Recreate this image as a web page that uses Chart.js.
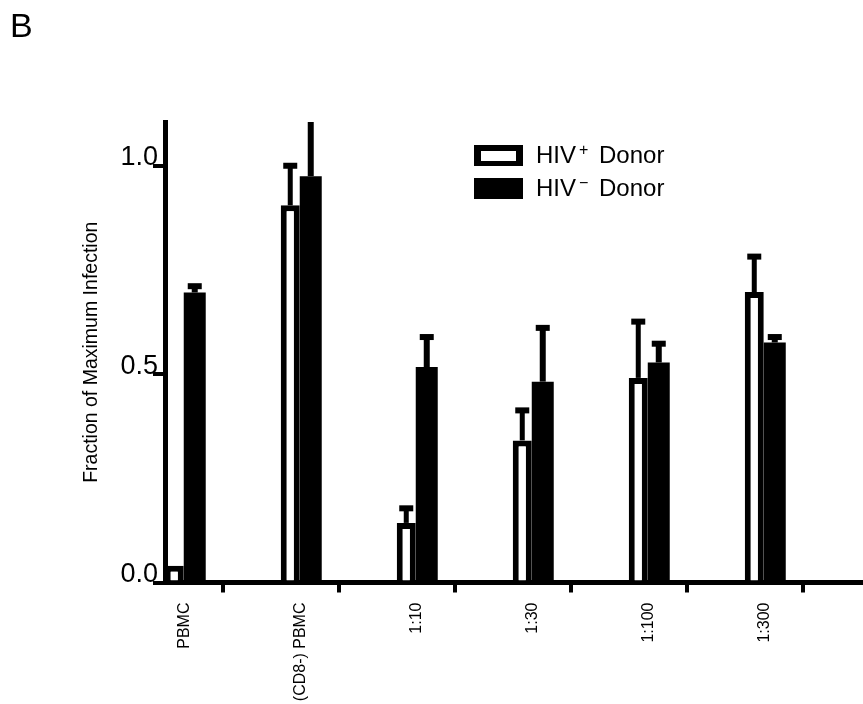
<!DOCTYPE html>
<html>
<head>
<meta charset="utf-8">
<title>Fraction of Maximum Infection</title>
<script src="https://cdn.jsdelivr.net/npm/chart.js@4.4.1/dist/chart.umd.min.js"></script>
<style>
  html, body { margin: 0; padding: 0; background: #fff; }
  #wrap { width: 863px; height: 704px; position: relative; }
</style>
</head>
<body>
<div id="wrap"><canvas id="chart"></canvas></div>
<script>
'use strict';

// ── data ────────────────────────────────────────────────────────────────────
const categories  = ['PBMC', '(CD8-) PBMC', '1:10', '1:30', '1:100', '1:300'];
const hivPos      = [0.040, 0.905, 0.143, 0.341, 0.491, 0.697];
const hivPosErr   = [0.000, 0.095, 0.035, 0.072, 0.135, 0.085];
const hivNeg      = [0.696, 0.975, 0.517, 0.482, 0.528, 0.576];
const hivNegErr   = [0.015, 0.150, 0.072, 0.129, 0.045, 0.013];
const yTickValues = [0, 0.5, 1.0];
const seriesNames = ['HIV⁺ Donor', 'HIV⁻ Donor'];
const legendParts = [['HIV', '+', ' Donor'], ['HIV', '−', ' Donor']];

const FONT = "'Liberation Sans', Arial, sans-serif";
const errorSets = [hivPosErr, hivNegErr];

// ── error bars (one-sided, upward, T cap) ──────────────────────────────────
const errorBars = {
  id: 'errorBars',
  afterDatasetsDraw(chart) {
    const { ctx, chartArea, scales: { y } } = chart;
    ctx.save();
    ctx.beginPath();
    ctx.rect(chartArea.left, chartArea.top, chartArea.width, chartArea.height);
    ctx.clip();
    ctx.fillStyle = '#000';
    chart.data.datasets.forEach((ds, di) => {
      const stem = di === 0 ? 5 : 6;
      chart.getDatasetMeta(di).data.forEach((bar, i) => {
        const err = errorSets[di][i];
        if (!err) return;
        const yTop = y.getPixelForValue(ds.data[i].y);
        const yEnd = y.getPixelForValue(ds.data[i].y + err);
        ctx.fillRect(bar.x - stem / 2, yEnd, stem, yTop - yEnd);
        ctx.fillRect(bar.x - 7, yEnd - 3, 14, 6);
      });
    });
    ctx.restore();
  }
};

// ── legend with superscripts ───────────────────────────────────────────────
const boxLegend = {
  id: 'boxLegend',
  afterDraw(chart) {
    const { ctx, chartArea } = chart;
    const bx = chartArea.left + 309;
    const by = chartArea.top + 23;
    ctx.save();
    chart.data.datasets.forEach((ds, i) => {
      const top = by + i * 33;
      ctx.fillStyle = '#000';
      ctx.fillRect(bx, top, 49, 21);
      if (ds.backgroundColor === '#fff') {
        ctx.fillStyle = '#fff';
        ctx.fillRect(bx + 7, top + 6, 35, 10);
      }
      const [main, sup, rest] = legendParts[i];
      const base = top + 18;
      let tx = bx + 62;
      ctx.fillStyle = '#000';
      ctx.textBaseline = 'alphabetic';
      ctx.textAlign = 'left';
      ctx.font = `24px ${FONT}`;
      ctx.fillText(main, tx, base);
      tx += ctx.measureText(main).width + 3;
      ctx.font = `16px ${FONT}`;
      ctx.fillText(sup, tx, base - 8);
      tx += ctx.measureText(sup).width + 4;
      ctx.font = `24px ${FONT}`;
      ctx.fillText(rest, tx, base);
    });
    ctx.restore();
  }
};

new Chart(document.getElementById('chart'), {
  type: 'bar',
  data: {
    datasets: [
      {
        label: seriesNames[0],
        xAxisID: 'x',
        data: categories.map((c, i) => ({ x: i, y: hivPos[i] })),
        backgroundColor: '#fff',
        borderColor: '#000',
        borderWidth: 6,
        borderSkipped: 'start',
        categoryPercentage: 0.3534,
        barPercentage: 0.927,
      },
      {
        label: seriesNames[1],
        xAxisID: 'x',
        data: categories.map((c, i) => ({ x: i, y: hivNeg[i] })),
        backgroundColor: '#000',
        borderWidth: 0,
        categoryPercentage: 0.3534,
        barPercentage: 1.073,
      },
    ],
  },
  options: {
    responsive: true,
    maintainAspectRatio: false,
    animation: false,
    layout: { padding: { left: 10, right: 0, top: 0, bottom: 0 } },
    plugins: {
      legend: { display: false },
      tooltip: { enabled: false },
      title: {
        display: true, text: 'B', align: 'start', color: '#000',
        font: { family: FONT, size: 34, weight: 'normal' },
        padding: { top: 7, bottom: 74.2 },
      },
    },
    scales: {
      x: {
        type: 'linear', position: 'bottom', weight: 1, offset: false,
        min: -0.168, max: 5.849,
        afterBuildTicks: s => { s.ticks = categories.map((c, i) => ({ value: i })); },
        ticks: {
          autoSkip: false, minRotation: 90, maxRotation: 90, padding: 10, color: '#000',
          font: { family: FONT, size: 16 },
          callback: v => categories[v],
        },
        grid: { display: false, drawTicks: false, offset: false },
        border: { display: false },
        afterFit: s => { s.height = 111.5; },
      },
      xt: {
        type: 'linear', position: 'bottom', weight: 0, offset: false,
        min: -0.5, max: 5.517,
        afterBuildTicks: s => { s.ticks = categories.map((c, i) => ({ value: i })); },
        ticks: { display: false },
        grid: { display: true, offset: false, drawOnChartArea: false, drawTicks: true, tickLength: 10, lineWidth: 4, color: '#000' },
        border: { display: true, width: 5, color: '#000' },
        afterFit: s => { s.height = 10; },
      },
      y: {
        min: 0, max: 1.105,
        afterBuildTicks: s => { s.ticks = yTickValues.map(v => ({ value: v })); },
        ticks: {
          padding: -5, labelOffset: -8, color: '#000',
          font: { family: FONT, size: 27 },
          callback: v => v.toFixed(1),
        },
        grid: { drawOnChartArea: false, drawTicks: true, tickLength: 12, lineWidth: 4, color: '#000' },
        border: { width: 5, color: '#000' },
        title: {
          display: true, text: 'Fraction of Maximum Infection', color: '#000',
          font: { family: FONT, size: 19.5 },
          padding: { top: 70, bottom: 0 },
        },
        afterFit: s => { s.width = 155; },
      },
    },
  },
  plugins: [errorBars, boxLegend],
});
</script>
</body>
</html>
